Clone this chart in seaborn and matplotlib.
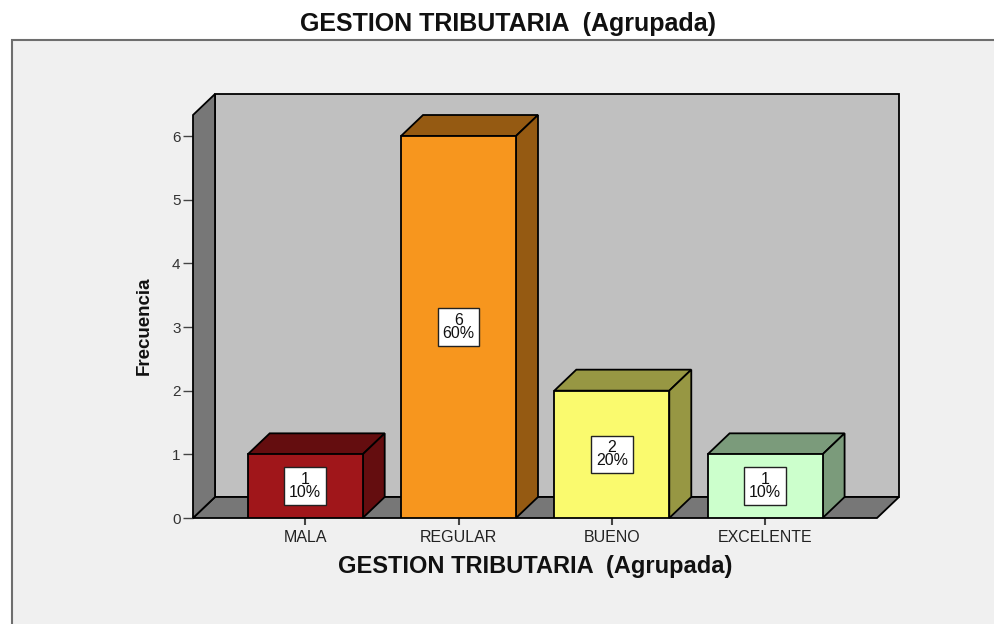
import numpy as np
import pandas as pd
import matplotlib
matplotlib.use("Agg")
import matplotlib.pyplot as plt
import seaborn as sns
from matplotlib.patches import Polygon, Rectangle
from matplotlib.transforms import IdentityTransform

# Datos de la tabla de frecuencias
categorias = ["MALA", "REGULAR", "BUENO", "EXCELENTE"]
frecuencia = [1, 6, 2, 1]
porcentaje = [10, 60, 20, 10]
color_frente = ["#a0161a", "#f7961e", "#fafa6e", "#ccffcc"]
color_lado = ["#640d0f", "#955a12", "#979743", "#7b9b7b"]

sns.set_theme(style="white")
plt.rcParams["font.family"] = ["Liberation Sans", "DejaVu Sans"]

fig = plt.figure(figsize=(9.94, 6.24), dpi=100, facecolor="white")

# marco gris del fondo
fig.add_artist(Rectangle((12 / 994, -0.05), 1.1, (624 - 40) / 624 + 0.05,
                         transform=fig.transFigure, facecolor="#f0f0f0",
                         edgecolor="#6e6e6e", lw=1.5, zorder=0))

ax = fig.add_axes([193 / 994, (624 - 518) / 624, (877 - 193) / 994, (518 - 115) / 624])
ax.set_facecolor("none")

df = pd.DataFrame({"cat": categorias, "frec": frecuencia})
sns.barplot(data=df, x="cat", y="frec", hue="cat", palette=color_frente,
            width=0.75, saturation=1, edgecolor="black", linewidth=1.3,
            legend=False, ax=ax, zorder=3)
barras = list(ax.patches)

xmin, xmax = -0.732, 3.73
ymax = 6.33
ax.set_xlim(xmin, xmax)
ax.set_ylim(0, ymax)

dx, dy = 22, 21  # profundidad en pixeles


def poly(puntos, desplazar, fc, z):
    pix = ax.transData.transform(puntos)
    pix = pix + np.array(desplazar) * np.array([dx, dy])
    p = Polygon(pix, closed=True, transform=IdentityTransform(), facecolor=fc,
                edgecolor="black", lw=1.3, clip_on=False, zorder=z)
    ax.add_artist(p)


# pared del fondo, piso y pared izquierda
poly([(xmin, 0), (xmax, 0), (xmax, ymax), (xmin, ymax)], [(1, 1)] * 4, "#c0c0c0", 0.5)
poly([(xmin, 0), (xmax, 0), (xmax, 0), (xmin, 0)], [(0, 0), (0, 0), (1, 1), (1, 1)], "#777777", 0.6)
poly([(xmin, 0), (xmin, ymax), (xmin, ymax), (xmin, 0)], [(0, 0), (0, 0), (1, 1), (1, 1)], "#777777", 0.7)

# caras superior y lateral de cada barra
for i, bar in enumerate(barras):
    x0 = bar.get_x()
    w = bar.get_width()
    h = bar.get_height()
    poly([(x0, h), (x0 + w, h), (x0 + w, h), (x0, h)],
         [(0, 0), (0, 0), (1, 1), (1, 1)], color_lado[i], 2.5)
    poly([(x0 + w, 0), (x0 + w, h), (x0 + w, h), (x0 + w, 0)],
         [(0, 0), (0, 0), (1, 1), (1, 1)], color_lado[i], 2.5)
    ax.text(i, h / 2, f"{frecuencia[i]}\n{porcentaje[i]}%", ha="center", va="center",
            fontsize=11.5, linespacing=0.82, color="#111111", zorder=5,
            bbox=dict(boxstyle="square,pad=0.3", facecolor="white", edgecolor="#222222", lw=1))

for s in ax.spines.values():
    s.set_visible(False)

ax.set_yticks(range(0, 7))
ax.tick_params(axis="y", left=True, length=7, width=1, color="#444444", pad=2,
               labelsize=11, labelcolor="#333333")
ax.tick_params(axis="x", bottom=True, length=5, width=1.5, color="#444444", pad=4,
               labelsize=11.5, labelcolor="#222222")

ax.set_xlabel("GESTION TRIBUTARIA  (Agrupada)", fontsize=17, fontweight="bold", color="#111111")
ax.xaxis.set_label_coords(0.5, -0.121)
ax.xaxis.label.set_va("center")
ax.set_ylabel("Frecuencia", fontsize=13.5, fontweight="bold", color="#111111")
ax.yaxis.set_label_coords(-0.072, 0.476)
ax.yaxis.label.set_va("center")

fig.text(0.511, 1 - 24 / 624, "GESTION TRIBUTARIA  (Agrupada)", ha="center", va="center",
         fontsize=18, fontweight="bold", color="#111111")

fig.savefig("out.png", dpi=100)
